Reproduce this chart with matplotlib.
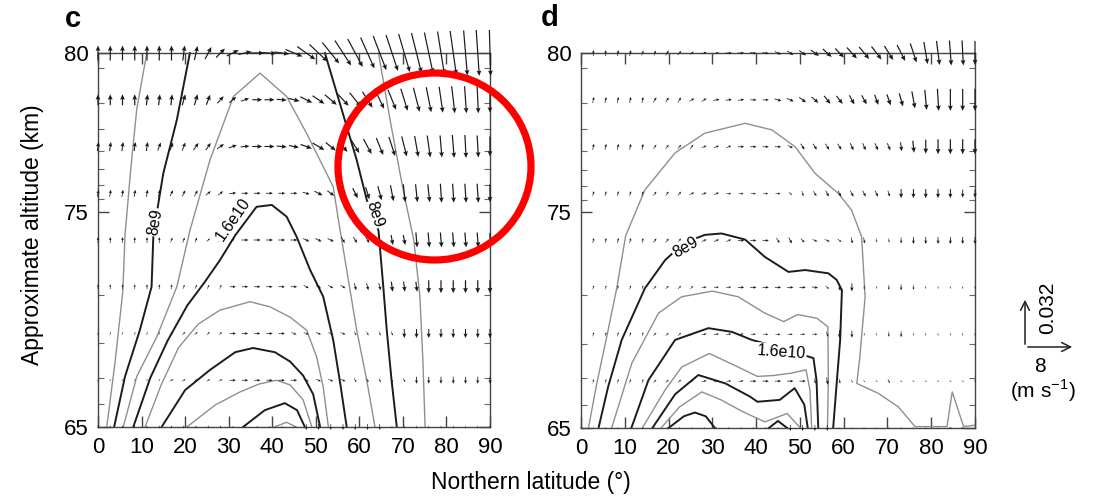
import numpy as np
import matplotlib.pyplot as plt
from matplotlib.patches import Ellipse, FancyArrowPatch

plt.rcParams['font.family'] = ['Liberation Sans', 'DejaVu Sans']
plt.rcParams['mathtext.fontset'] = 'custom'
plt.rcParams['mathtext.rm'] = 'Liberation Sans'

# model grid: 33 latitudes, 9 log-pressure levels (0 = ~65 km ... 8 = ~80 km)
lat = np.linspace(0, 90, 33)
lev = np.arange(9)

lat_ticks = [0, 10, 20, 30, 40, 50, 60, 70, 80, 90]
alt_ticks = ['65', '75', '80']
alt_tick_lev = [0, 4.6, 8]

# panel c: meridional wind v (m/s) and vertical wind w (mm/s), rows from 80 km down to 65 km
c_v = [
    [0, 0, 0, 0, 0, 0, 0, 0.3, 0.5, 1.0, 1.4, 1.9, 2.1, 2.2, 2.2, 2.4, 2.7, 2.9, 2.9, 2.7, 2.6, 2.4, 2.2, 2.1, 1.9, 1.8, 1.6, 1.4, 1.1, 1.0, 0.6, 0.5, 0.2],
    [0, 0, 0, 0, 0.2, 0.2, 0.2, 0.5, 0.5, 0.6, 1.0, 1.1, 1.3, 1.6, 1.6, 1.6, 1.8, 1.9, 1.9, 1.9, 1.8, 1.8, 1.6, 1.4, 1.3, 1.1, 1.0, 0.8, 0.6, 0.5, 0.3, 0.2, 0],
    [0.2, 0.2, 0.2, 0.2, 0.2, 0.5, 0.5, 0.5, 0.8, 0.8, 1.1, 1.3, 1.4, 1.6, 1.6, 1.6, 1.6, 1.8, 1.9, 1.6, 1.4, 1.3, 1.3, 1.1, 1.0, 0.8, 0.6, 0.5, 0.3, 0.3, 0.2, 0.2, 0],
    [0.2, 0.2, 0.2, 0.2, 0.2, 0.2, 0.5, 0.5, 0.5, 0.8, 0.8, 1.1, 1.1, 1.1, 1.1, 1.1, 1.1, 1.1, 1.3, 1.1, 1.0, 0.8, 0.6, 0.6, 0.5, 0.3, 0.3, 0.3, 0.2, 0.2, 0.2, 0.2, 0],
    [0, 0, 0, 0, 0, 0, 0.3, 0.3, 0.3, 0.6, 0.6, 0.6, 1.1, 1.1, 1.1, 1.1, 1.1, 1.0, 1.0, 1.0, 0.6, 0.6, 0.6, 0.3, 0.3, 0.3, 0.2, 0.2, 0.2, 0.2, 0.2, 0.2, 0],
    [0, 0, 0, 0, 0, 0, 0, 0.3, 0.3, 0.3, 0.3, 1.0, 1.0, 1.0, 1.0, 1.0, 1.0, 0.8, 0.8, 0.8, 0.8, 0.3, 0.3, 0.3, 0.2, 0.2, 0.2, 0, 0, 0, 0, 0, 0],
    [0.2, 0.2, 0.2, 0.2, 0.2, 0.2, 0.5, 0.5, 0.5, 0.5, 0.5, 1.0, 1.0, 1.0, 1.0, 1.0, 0.8, 0.8, 0.8, 0.8, 0.8, 0.3, 0.3, 0.3, 0.3, 0, 0, 0, 0, 0, 0, 0, 0],
    [0.3, 0.3, 0.3, 0.3, 0.3, 0.3, 0.6, 0.6, 0.6, 0.6, 0.6, 1.0, 1.0, 1.0, 1.0, 1.0, 1.0, 0.8, 0.8, 0.8, 0.8, 0.3, 0.3, 0.3, 0.3, 0.3, 0, 0, 0, 0, 0, 0, 0],
    [0, 0, 0, 0, 0, 0, 0, 0, 0, 0, 0, 0.2, 0.2, 0.2, 0.2, 0.2, 0.2, 0, 0, 0, 0, 0, 0, 0, 0, 0, 0, 0, 0, 0, 0, 0, 0],
]
c_w = [
    [9.6, 9.6, 9.6, 9.6, 9.6, 9.6, 9.6, 9.6, 9.0, 7.7, 5.8, 3.8, 1.9, 0, -0.6, -1.3, -4.5, -8.3, -10.9, -13.4, -16.0, -17.9, -19.8, -21.8, -23.0, -24.3, -25.6, -26.2, -27.5, -28.2, -28.8, -29.4, -29.4],
    [7.0, 7.0, 7.0, 7.0, 7.0, 7.0, 7.0, 7.0, 7.0, 6.4, 4.5, 3.8, 1.9, 0, 0, -0.6, -1.9, -3.8, -5.1, -6.4, -7.7, -9.0, -10.2, -11.5, -12.8, -14.1, -15.4, -16.0, -16.6, -17.3, -17.3, -17.3, -16.6],
    [5.8, 5.8, 5.8, 5.8, 5.8, 5.1, 5.1, 5.1, 4.5, 4.5, 3.2, 1.9, 0.6, 0, 0, -0.6, -1.3, -2.6, -4.5, -5.1, -7.0, -8.3, -9.6, -10.9, -12.2, -12.8, -13.4, -14.1, -14.1, -14.7, -14.7, -14.1, -12.8],
    [4.5, 4.5, 4.5, 4.5, 4.5, 4.5, 3.8, 3.8, 3.8, 2.6, 2.6, 0.6, 0, 0, 0, 0, 0, -1.3, -2.6, -3.2, -4.5, -6.4, -7.7, -9.0, -10.2, -11.5, -11.5, -11.5, -12.2, -12.2, -12.2, -12.2, -11.5],
    [3.8, 3.8, 3.8, 3.8, 3.8, 3.8, 3.2, 3.2, 3.2, 1.9, 1.9, 1.9, 0, 0, 0, 0, 0, -1.9, -1.9, -1.9, -3.8, -3.8, -3.8, -6.4, -6.4, -6.4, -9.6, -9.6, -9.6, -9.6, -9.6, -9.6, -9.0],
    [3.2, 3.2, 3.2, 3.2, 3.2, 3.2, 3.2, 2.6, 2.6, 2.6, 2.6, 0, 0, 0, 0, 0, 0, -1.9, -1.9, -1.9, -1.9, -4.5, -4.5, -4.5, -6.4, -6.4, -6.4, -8.3, -8.3, -8.3, -8.3, -8.3, -8.3],
    [1.9, 1.9, 1.9, 1.9, 1.9, 1.9, 1.9, 1.9, 1.9, 1.9, 1.9, 0, 0, 0, 0, 0, -1.3, -1.3, -1.3, -1.3, -1.3, -2.6, -2.6, -2.6, -2.6, -5.8, -5.8, -5.8, -5.8, -5.8, -5.8, -5.8, -5.8],
    [1.3, 1.3, 1.3, 1.3, 1.3, 1.3, 1.3, 1.3, 1.3, 1.3, 1.3, 0, 0, 0, 0, 0, 0, -1.3, -1.3, -1.3, -1.3, -2.6, -2.6, -2.6, -2.6, -2.6, -4.5, -4.5, -4.5, -4.5, -4.5, -4.5, -4.5],
    [1.9, 1.9, 1.9, 1.9, 1.9, 1.9, 1.9, 1.9, 1.9, 1.9, 1.9, 1.3, 1.3, 1.3, 1.3, 1.3, 1.3, -3.8, -3.8, -3.8, -3.8, -3.8, -3.8, -3.8, -1.9, -1.9, -1.9, -1.9, -1.9, -1.9, -1.9, -1.9, -1.9],
]

# panel d
d_v = [
    [0, 0, 0, 0.2, 0.2, 0.3, 0.3, 0.5, 0.6, 0.6, 0.8, 0.8, 1.0, 1.0, 1.0, 1.0, 1.0, 1.0, 1.1, 1.3, 1.4, 1.4, 1.6, 1.6, 1.6, 1.4, 1.3, 1.0, 0.6, 0.5, 0.3, 0.2, 0],
    [0, 0.2, 0.2, 0.2, 0.2, 0.2, 0.5, 0.5, 0.5, 0.8, 0.8, 1.0, 1.0, 1.0, 1.0, 1.0, 1.1, 1.1, 1.1, 1.1, 1.0, 1.0, 0.8, 0.8, 0.6, 0.6, 0.6, 0.5, 0.3, 0.2, 0, 0, 0],
    [0, 0.2, 0.2, 0.2, 0.2, 0.2, 0.5, 0.5, 0.5, 0.5, 0.8, 0.8, 0.8, 1.0, 1.0, 1.0, 1.0, 0.8, 0.6, 0.6, 0.6, 0.6, 0.5, 0.5, 0.5, 0.5, 0.2, 0.2, 0, 0, 0, 0, 0],
    [0, 0.2, 0.2, 0.2, 0.2, 0.2, 0.5, 0.5, 0.5, 0.8, 0.8, 0.8, 0.8, 0.8, 0.8, 0.8, 0.8, 0.5, 0.3, 0.5, 0.5, 0.5, 0.5, 0.5, 0.5, 0.3, 0, 0, 0, 0, 0, 0, 0],
    [0, 0.2, 0.2, 0.2, 0.2, 0.2, 0.5, 0.5, 0.5, 0.5, 0.8, 0.8, 0.8, 1.0, 1.0, 1.0, 0.5, 0.5, 0.6, 0.8, 0.8, 0.6, 0.2, 0.2, 0, 0.2, 0, 0, 0, 0, 0, 0, 0],
    [0, 0.2, 0.2, 0.2, 0.2, 0.2, 0.5, 0.5, 0.5, 0.5, 0.8, 0.8, 0.8, 1.0, 1.0, 1.0, 1.0, 1.0, 1.0, 1.0, 0.6, 0.2, 0, 0, 0, 0, 0, 0, 0, 0, 0, 0, 0],
    [0, 0.2, 0.2, 0.2, 0.2, 0.2, 0.5, 0.5, 0.5, 0.5, 0.8, 0.8, 0.8, 0.8, 0.8, 0.8, 0.8, 0.8, 0.8, 0.8, 0.3, 0, 0, 0, 0, 0, 0, 0, 0, 0, 0, 0, 0],
    [0, 0.2, 0.2, 0.2, 0.2, 0.2, 0.5, 0.5, 0.5, 0.5, 0.8, 0.8, 0.8, 0.8, 1.0, 1.0, 1.0, 1.0, 1.0, 0.2, 0.2, 0.2, 0.3, 0.3, 0.3, 0.3, 0.3, 0.3, 0.3, 0.3, 0.3, 0.3, 0.3],
    [0, 0, 0, 0, 0, 0, 0, 0, 0, 0, 0, 0, 0, 0, 0, 0, 0, 0, 0, 0, 0, 0.3, 0.3, 0.3, 0.3, 0.3, 0.3, 0.3, 0.3, 0.3, -0.6, -0.6, 0],
]
d_w = [
    [0, 3.8, 3.8, 3.8, 3.8, 3.2, 3.2, 3.2, 2.6, 1.9, 1.3, 0.6, 0, 0, -0.6, -0.6, -1.9, -2.6, -3.2, -3.8, -5.1, -5.8, -7.0, -7.7, -8.3, -9.0, -10.2, -12.2, -14.1, -15.4, -16.0, -16.0, -15.4],
    [0, 3.8, 3.8, 3.8, 3.8, 3.8, 3.2, 3.2, 3.2, 1.9, 1.9, 0.6, 0.6, 0.6, 0, 0, -1.3, -1.9, -3.2, -3.8, -5.1, -5.1, -5.8, -5.8, -6.4, -7.0, -8.3, -10.9, -12.8, -14.1, -14.1, -14.1, -14.1],
    [0, 3.8, 3.8, 3.8, 3.8, 3.8, 2.6, 2.6, 2.6, 2.6, 1.3, 1.3, 1.3, 0, 0, 0, 0, -1.9, -3.8, -3.8, -3.8, -3.8, -4.5, -4.5, -4.5, -4.5, -5.8, -7.7, -9.0, -9.6, -9.6, -9.6, -9.6],
    [0, 3.2, 3.2, 3.2, 3.2, 3.2, 2.6, 2.6, 2.6, 1.3, 1.3, 1.3, 0, 0, 0, 0, 0, -1.9, -3.2, -3.2, -3.8, -3.8, -3.8, -3.8, -3.8, -3.8, -5.8, -5.8, -5.8, -5.8, -5.8, -5.1, -5.1],
    [0, 3.2, 3.2, 3.2, 3.2, 3.2, 2.6, 2.6, 2.6, 2.6, 1.3, 1.3, 1.3, 0, 0, 0, -3.2, -3.8, -2.6, -1.3, -1.3, -1.9, -3.8, -3.8, -2.6, -2.6, -3.8, -4.5, -4.5, -4.5, -4.5, -4.5, -4.5],
    [0, 2.6, 2.6, 2.6, 2.6, 2.6, 1.9, 1.9, 1.9, 1.9, 0.6, 0.6, 0.6, 0, 0, 0, 0, 0, 0, -0.6, -1.9, -4.5, -5.1, -2.6, -1.9, -3.2, -3.8, -3.2, -1.9, -1.9, -1.9, -1.9, -1.9],
    [0, 2.6, 2.6, 2.6, 2.6, 2.6, 1.9, 1.9, 1.9, 1.9, 0.6, 0.6, 0.6, 0.6, 0, 0, 0, 0, 0, 0, -3.2, -5.1, -4.5, -1.9, -1.9, -3.2, -3.8, -1.9, -1.9, -1.9, -1.9, -1.9, -1.9],
    [0, 2.6, 2.6, 2.6, 2.6, 2.6, 1.9, 1.9, 1.9, 1.9, 0.6, 0.6, 0.6, 0.6, 0, 0, 0, 0, 0, -3.2, -4.5, -3.2, -1.9, -1.3, -1.3, -2.6, -1.3, -1.3, -1.3, -1.3, -1.3, -1.3, -1.3],
    [1.3, 1.3, 1.3, 1.3, 1.3, 1.3, 1.3, 1.3, 1.3, 1.3, 1.3, 1.3, 1.3, 1.3, 1.3, 1.3, 1.3, -3.8, -3.8, -3.8, -3.8, -0.6, -0.6, -0.6, -0.6, -0.6, -0.6, -0.6, -0.6, -0.6, 0, 0, 0],
]

# contour lines: (value, latitudes, levels)
c_contours = [
    (4e9, [2.0, 3.9, 5.7, 6.2, 7.5, 8.9, 11.2], [0, 1.37, 2.9, 4.1, 5.5, 6.8, 8.0]),
    (4e9, [64.4, 67.0, 70.0, 72.5, 73.9, 74.6, 75.1], [8.0, 6.6, 5.1, 4.0, 2.8, 1.4, 0]),
    (8e9, [3.7, 6.2, 9.6, 12.3, 12.7, 13.8, 15.0, 18.1, 21.1], [0, 1.08, 2.07, 3.0, 4.07, 4.75, 5.43, 6.57, 8.0]),
    (8e9, [52.1, 55.6, 59.4, 61.7, 64.4, 65.5, 66.3, 67.4, 68.6], [8.0, 6.9, 5.71, 4.86, 4.2, 3.0, 2.07, 1.0, 0]),
    (1.2e10, [5.8, 8.9, 13.5, 18.1, 21.1, 25.7, 31.1, 37.2, 43.3, 47.9, 51.7, 54.0, 55.6, 59.4, 61.7, 63.6],
     [0, 1.08, 1.93, 3.0, 4.2, 5.71, 7.07, 7.57, 7.07, 6.28, 5.57, 5.14, 4.2, 2.07, 1.0, 0]),
    (1.6e10, [8.1, 12.0, 16.0, 20.5, 24.5, 28.0, 31.5, 36.4, 39.9, 43.3, 45.6, 48.7, 51.7, 54.0, 55.6, 57.1],
     [0, 1.05, 1.85, 2.6, 3.1, 3.57, 4.1, 4.71, 4.75, 4.5, 4.07, 3.36, 2.79, 1.86, 0.94, 0]),
    (2.0e10, [10.8, 14.5, 18.5, 23.0, 28.0, 34.9, 39.5, 44.1, 47.9, 50.2, 51.7, 52.9],
     [0, 0.9, 1.7, 2.2, 2.5, 2.68, 2.57, 2.35, 2.07, 1.5, 0.86, 0]),
    (2.4e10, [14.6, 20.0, 25.7, 31.5, 35.6, 40.6, 44.1, 47.1, 49.4, 51.0],
     [0, 0.79, 1.22, 1.6, 1.69, 1.6, 1.4, 1.1, 0.7, 0]),
    (2.8e10, [20.4, 26.9, 32.6, 37.0, 41.0, 44.1, 47.1, 49.1], [0, 0.47, 0.75, 0.92, 1.0, 0.9, 0.58, 0]),
    (3.2e10, [33.3, 38.3, 42.9, 45.7, 47.5], [0, 0.36, 0.51, 0.36, 0]),
    (3.6e10, [40.5, 43.3, 45.5], [0, 0.1, 0]),
]
d_contours = [
    (4e9, [1.7, 3.5, 6.0, 8.2, 10.2, 14.6, 21.5, 28.3, 37.5, 43.6, 48.9, 53.5, 58.8, 61.8, 64.1, 64.9, 63.7, 63.0,
           67.9, 72.5, 76.3, 83.6, 84.8, 87.4, 90.0],
     [0, 0.9, 2.0, 3.0, 4.1, 5.08, 5.87, 6.29, 6.5, 6.36, 6.0, 5.43, 5.0, 4.65, 4.08, 2.8, 1.52, 0.95,
      0.74, 0.45, 0.03, 0.03, 0.77, 0.03, 0.06]),
    (8e9, [4.0, 6.2, 9.3, 14.6, 19.2, 23.5, 28.3, 32.1, 37.5, 42.0, 47.4, 51.2, 56.5, 58.4, 59.6, 59.2, 58.4, 57.6],
     [0, 0.88, 1.88, 2.98, 3.58, 3.95, 4.12, 4.15, 4.02, 3.65, 3.33, 3.37, 3.3, 3.16, 2.94, 1.88, 0.95, 0]),
    (1.2e10, [7.0, 11.6, 17.7, 23.0, 30.0, 35.9, 42.0, 46.3, 49.5, 53.9, 56.4, 56.5, 56.3],
     [0, 1.38, 2.45, 2.8, 2.92, 2.8, 2.45, 2.27, 2.42, 2.34, 2.16, 1.0, 0]),
    (1.6e10, [11.5, 15.4, 21.5, 29.1, 34.5, 39.0, 46.0, 53.1, 53.8, 54.2],
     [0, 1.02, 1.88, 2.13, 2.05, 1.88, 1.7, 1.49, 1.02, 0]),
    (2.0e10, [14.0, 19.2, 23.0, 29.3, 35.9, 40.3, 44.0, 48.0, 51.4, 52.3, 52.7],
     [0, 0.81, 1.3, 1.59, 1.3, 1.1, 1.12, 1.17, 1.24, 0.81, 0]),
    (2.4e10, [16.3, 21.5, 26.8, 33.0, 38.6, 40.3, 45.4, 48.8, 51.0, 51.8],
     [0, 0.72, 1.13, 0.95, 0.67, 0.56, 0.6, 0.85, 0.5, 0]),
    (2.8e10, [18.3, 22.5, 27.6, 32.0, 36.9, 42.0, 47.1, 50.1], [0, 0.45, 0.77, 0.6, 0.35, 0.13, 0.31, 0]),
    (3.2e10, [20.0, 23.5, 26.0, 28.5, 30.6], [0, 0.25, 0.33, 0.25, 0]),
    (3.2e10, [42.9, 45.0, 47.1], [0, 0.15, 0]),
]

# contour labels: text, lat, level, angle
c_labels = [('8e9', 13.1, 4.38, 80), ('1.6e10', 31.0, 4.43, 55), ('8e9', 63.6, 4.55, -72)]
d_labels = [('8e9', 23.8, 3.85, 30), ('1.6e10', 45.8, 1.62, -4)]

# reference vector: 8 m/s and 0.032 (32 mm/s)
ref_v = 8
ref_w = 32


def draw_panel(ax, v, w, contours, labels, letter):
    X, Y = np.meshgrid(lat, lev)
    V = np.array(v)[::-1]
    W = np.array(w)[::-1]
    for val, xs, ys in contours:
        black = abs(val / 8e9 - round(val / 8e9)) < 1e-6
        ax.plot(xs, ys, color='#1c1c1c' if black else '#8f8f8f',
                lw=1.4 if black else 1.0, zorder=2, clip_on=False)
    ax.quiver(X, Y, V / ref_v, W / ref_w, angles='uv', units='inches',
              scale_units='inches', scale=2, width=0.012, headwidth=4,
              headlength=4.5, headaxislength=4, minshaft=2, pivot='middle',
              minlength=0.3, color='#1a1a1a', clip_on=False, zorder=3)
    for txt, x, y, rot in labels:
        ax.text(x, y, txt, rotation=rot, fontsize=11.5, ha='center', va='center',
                rotation_mode='anchor', zorder=4,
                bbox=dict(fc='white', ec='none', pad=0.6))
    ax.set_xlim(0, 90)
    ax.set_ylim(0, 8)
    ax.set_xticks(lat_ticks)
    ax.set_yticks(alt_tick_lev)
    ax.set_yticklabels(alt_ticks)
    minor = [4.6 - np.log10(k) / 0.17 for k in (2, 3, 4, 5)] + \
            [4.6 + (1 - np.log10(k)) / 0.17 for k in (3, 4, 5, 6, 7, 8, 9)]
    ax.set_yticks(minor, minor=True)
    ax.tick_params(direction='in', top=True, right=True, labelsize=16,
                   length=8, width=1, color='#444444', pad=7)
    ax.tick_params(which='minor', direction='in', right=True, length=4,
                   width=0.8, color='#666666')
    for s in ax.spines.values():
        s.set_color('#444444')
        s.set_linewidth(1.0)
    ax.text(letter[1], letter[2], letter[0], transform=ax.figure.transFigure,
            fontsize=21, fontweight='bold', ha='center', va='center')


fig = plt.figure(figsize=(10.99, 4.96), dpi=100)
axc = fig.add_axes([98 / 1099, 1 - 427 / 496, 392 / 1099, 374 / 496])
axd = fig.add_axes([581 / 1099, 1 - 428 / 496, 394 / 1099, 375 / 496])

draw_panel(axc, c_v, c_w, c_contours, c_labels, ('c', 73 / 1099, 1 - 19 / 496))
draw_panel(axd, d_v, d_w, d_contours, d_labels, ('d', 550 / 1099, 1 - 18 / 496))

fig.text(33 / 1099, 1 - 235 / 496, 'Approximate altitude (km)', rotation=90,
         fontsize=16.5, ha='center', va='center')
fig.text(531 / 1099, 1 - 483 / 496, 'Northern latitude (°)', fontsize=16.5,
         ha='center', va='center')

# reference vector legend
x0, y0 = 1025 / 1099, 1 - 347 / 496
fig.add_artist(FancyArrowPatch((x0, y0), (x0 + 50 / 1099, y0), transform=fig.transFigure,
                               arrowstyle='->', mutation_scale=16, lw=1.1, color='#222222'))
fig.add_artist(FancyArrowPatch((x0, y0), (x0, y0 + 50 / 496), transform=fig.transFigure,
                               arrowstyle='->', mutation_scale=16, lw=1.1, color='#222222'))
fig.text(1048 / 1099, 1 - 308 / 496, '0.032', rotation=90, fontsize=15, ha='center', va='center')
fig.text(1040 / 1099, 1 - 366 / 496, '8', fontsize=15, ha='center', va='center')
fig.text(1043 / 1099, 1 - 391 / 496, '(m s$^{-1}$)', fontsize=15, ha='center', va='center')

# red highlight circle
fig.add_artist(Ellipse((434.5 / 1099, 1 - 166.5 / 496), 193 / 1099, 187 / 496,
                       transform=fig.transFigure, fill=False, ec='#ff0000', lw=5.2, zorder=10))

fig.savefig('out.png', dpi=100)
